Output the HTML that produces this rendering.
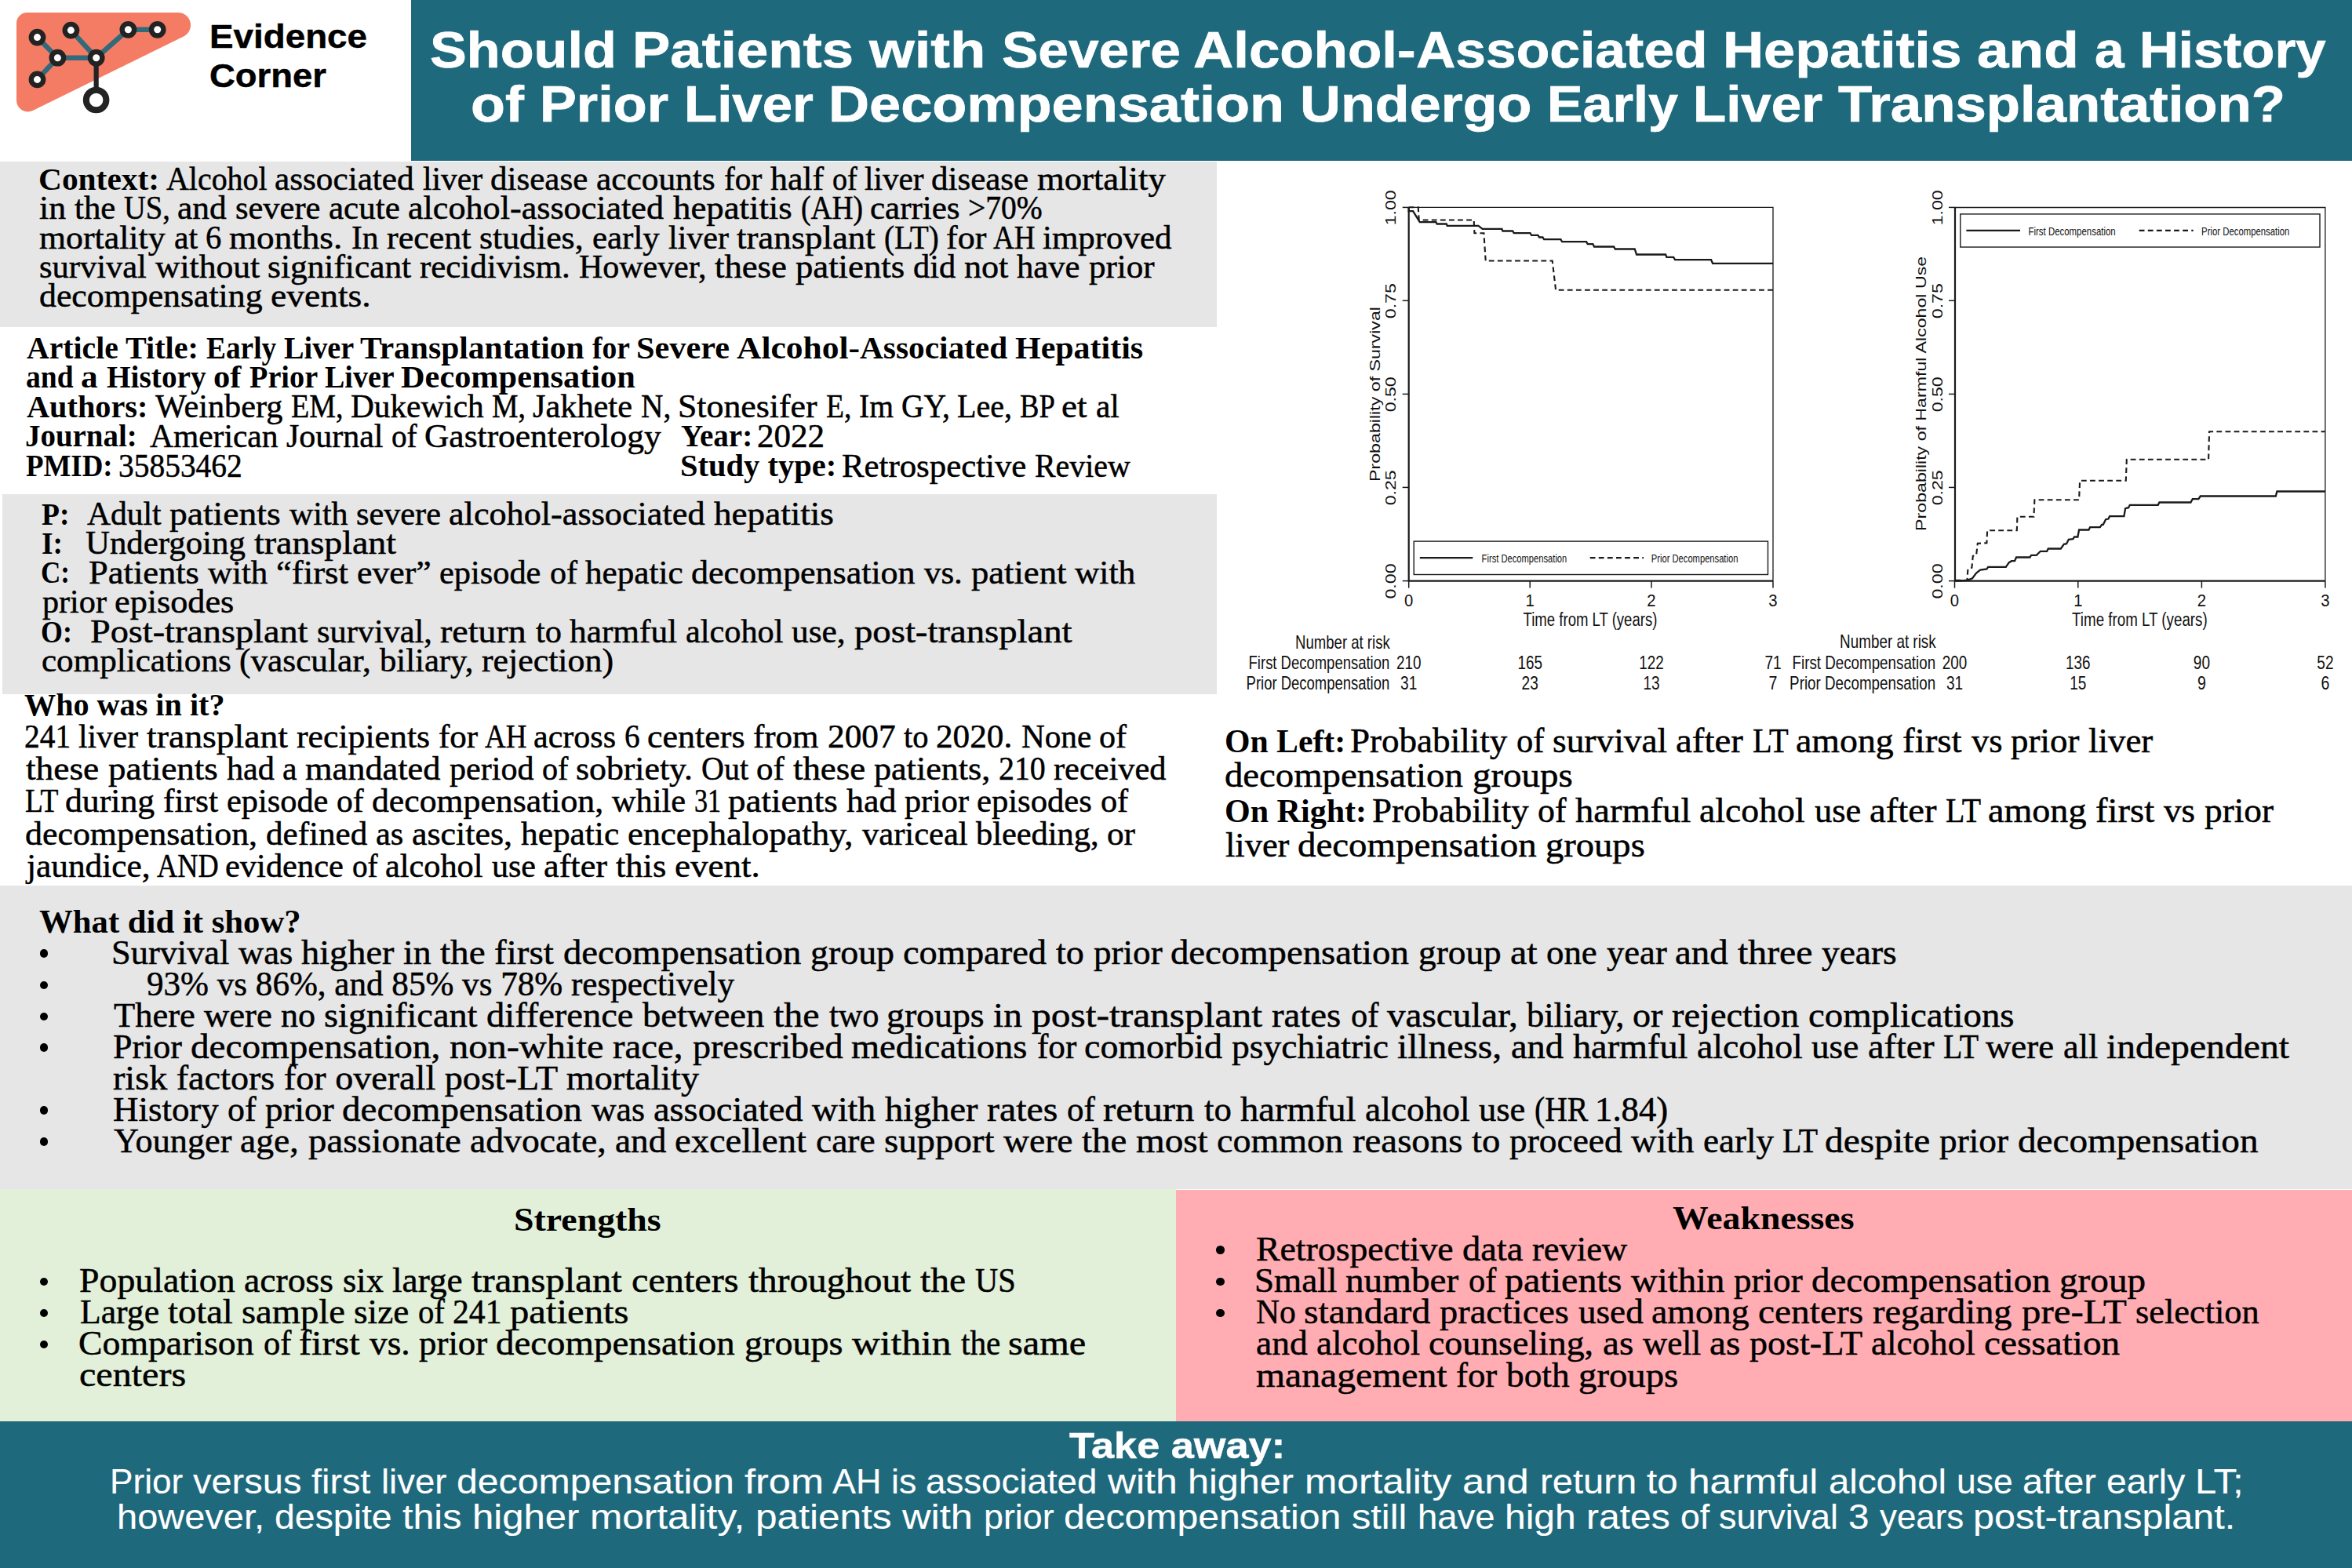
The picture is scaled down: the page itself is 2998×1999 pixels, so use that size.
<!DOCTYPE html>
<html lang="en">
<head>
<meta charset="utf-8">
<title>Evidence Corner</title>
<style>
html,body{margin:0;padding:0;}
body{width:2998px;height:1999px;position:relative;overflow:hidden;background:#fff;font-family:"Liberation Serif",serif;color:#000;}
.bx{position:absolute;}
.t{position:absolute;white-space:pre;transform-origin:0 0;font-weight:400;}
.s{font-family:"Liberation Serif",serif;}
.n{font-family:"Liberation Sans",sans-serif;}
.s{-webkit-text-stroke:0.5px #000;}
.s b{font-weight:700;-webkit-text-stroke:0;}
.n b{font-weight:700;}
.bu{position:absolute;width:10.5px;height:10.5px;border-radius:50%;background:#000;display:block;}
svg{position:absolute;left:0;top:0;}
svg text{font-family:"Liberation Sans",sans-serif;fill:#111;}
</style>
</head>
<body>
<!-- colour blocks -->
<div class="bx" style="left:523.7px;top:0;width:2474.3px;height:205.3px;background:#1f697d"></div>
<div class="bx" style="left:0;top:206px;width:1550.75px;height:211px;background:#e6e6e6"></div>
<div class="bx" style="left:3.2px;top:630.3px;width:1547.55px;height:254.4px;background:#e6e6e6"></div>
<div class="bx" style="left:0;top:1129px;width:2998px;height:387px;background:#e6e6e6"></div>
<div class="bx" style="left:0;top:1516px;width:1498.6px;height:297px;background:#e2efd9"></div>
<div class="bx" style="left:1498.6px;top:1517px;width:1499.4px;height:296px;background:#ffadb2"></div>
<div class="bx" style="left:0;top:1812.2px;width:2998px;height:187px;background:#1f697d"></div>

<!-- logo -->
<svg width="300" height="200" viewBox="0 0 300 200">
<path d="M21,29.5 A13.5,13.5 0 0 1 34.5,16 L227,16 A16,16 0 0 1 234,46.4 L41.8,141 A14.5,14.5 0 0 1 21,128 Z" fill="#f57c64"/>
<g stroke="#336a7a" stroke-width="6.4" fill="none">
<path d="M47.5,47.6 L73.4,73.7 L47.5,101.4"/>
<path d="M73.4,73.7 L122.7,73.7"/>
<path d="M90.4,38.6 L122.7,73.7 L163.4,37.8 L200.7,37.8"/>
</g>
<path d="M122.65,73.7 L122.65,127.5" stroke="#232323" stroke-width="6.2" fill="none"/>
<g fill="#fff" stroke="#232323" stroke-width="6.4">
<circle cx="47.5" cy="47.6" r="7.7"/>
<circle cx="90.4" cy="38.6" r="7.7"/>
<circle cx="163.4" cy="37.8" r="7.7"/>
<circle cx="200.7" cy="37.8" r="7.7"/>
<circle cx="73.4" cy="73.7" r="7.7"/>
<circle cx="122.7" cy="73.7" r="7.7"/>
<circle cx="47.5" cy="101.4" r="7.7"/>
<circle cx="122.6" cy="127.5" r="12.8" stroke-width="8"/>
</g>

</svg>

<!-- charts -->
<svg width="2998" height="1999" viewBox="0 0 2998 1999">
<g fill="none" stroke="#1a1a1a">
<path d="M1795.7,264.4 L2260.0,264.4 L2260.0,740.6" stroke-width="1.3"/>
<path d="M1795.7,264.4 L1795.7,740.6 L2260.0,740.6" stroke-width="2.2"/>
<path d="M1787.7,264.4 L1795.7,264.4" stroke-width="1.5"/>
<path d="M1787.7,383.3 L1795.7,383.3" stroke-width="1.5"/>
<path d="M1787.7,502.4 L1795.7,502.4" stroke-width="1.5"/>
<path d="M1787.7,621.4 L1795.7,621.4" stroke-width="1.5"/>
<path d="M1787.7,740.6 L1795.7,740.6" stroke-width="1.5"/>
<path d="M1795.7,740.6 L1795.7,749.6" stroke-width="1.5"/>
<path d="M1950.2,740.6 L1950.2,749.6" stroke-width="1.5"/>
<path d="M2105,740.6 L2105,749.6" stroke-width="1.5"/>
<path d="M2260.0,740.6 L2260.0,749.6" stroke-width="1.5"/>
<path d="M1795.7,264.2 L1795.7,269.2 L1801.1,269.2 L1809.7,283.2 L1830.4,283.2 L1831.7,285.5 L1843.7,285.5 L1844.7,287.8 L1884.4,287.8 L1889.7,291.8 L1914.4,291.8 L1915.4,294.5 L1928.1,294.5 L1929.7,297.2 L1950.4,297.2 L1952.1,299.8 L1960.4,299.8 L1962.1,302.5 L1966.4,302.5 L1968.1,305.2 L1989.4,305.2 L1991.1,308.2 L2022.1,308.2 L2023.7,311.2 L2030.4,311.2 L2032.1,314.5 L2057.1,314.5 L2058.7,317.5 L2083.7,317.5 L2086.1,324.5 L2123.1,324.5 L2124.4,327.8 L2133.1,327.8 L2135.1,331.2 L2181.1,331.2 L2183.1,335.8 L2260.1,335.8" stroke-width="2.3"/>
<path d="M1795.7,264.2 L1807.7,264.2 L1808.7,280.5 L1878.7,280.5 L1879.4,297.2 L1891.4,297.2 L1893.7,332.5 L1978.7,332.5 L1983.1,369.8 L2260.1,369.8" stroke-width="2.1" stroke-dasharray="6.8,4.3"/>
<rect x="1802.2" y="690.1" width="451.3" height="42.4" stroke-width="1.4"/>
<path d="M1809.8,711.2 L1877.3,711.2" stroke-width="2.2"/>
<path d="M2026.7,711.2 L2095,711.2" stroke-width="2.3" stroke-dasharray="6.8,4.3"/>
<path d="M2492.0,264.5 L2963.9,264.5 L2963.9,740.6" stroke-width="1.3"/>
<path d="M2492.0,264.5 L2492.0,740.6 L2963.9,740.6" stroke-width="2.2"/>
<path d="M2484.0,264.4 L2492.0,264.4" stroke-width="1.5"/>
<path d="M2484.0,383.3 L2492.0,383.3" stroke-width="1.5"/>
<path d="M2484.0,502.4 L2492.0,502.4" stroke-width="1.5"/>
<path d="M2484.0,621.4 L2492.0,621.4" stroke-width="1.5"/>
<path d="M2484.0,740.6 L2492.0,740.6" stroke-width="1.5"/>
<path d="M2491.5,740.6 L2491.5,749.6" stroke-width="1.5"/>
<path d="M2648.8,740.6 L2648.8,749.6" stroke-width="1.5"/>
<path d="M2806.4,740.6 L2806.4,749.6" stroke-width="1.5"/>
<path d="M2963.9,740.6 L2963.9,749.6" stroke-width="1.5"/>
<path d="M2492.4,740.5 L2507.4,739.8 L2514.1,737.2 L2519.1,730.5 L2524.1,726.5 L2532.4,725.5 L2534.1,722.8 L2556.8,722.8 L2560.8,717.2 L2564.1,715.2 L2568.1,715.2 L2570.1,710.5 L2587.4,710.5 L2589.1,707.8 L2595.8,707.8 L2600.8,702.8 L2609.1,702.8 L2610.8,699.5 L2626.8,699.5 L2630.8,693.8 L2634.1,693.2 L2636.8,687.8 L2642.4,687.2 L2644.1,684.5 L2648.4,684.5 L2650.1,675.5 L2662.4,675.5 L2664.1,672.2 L2676.8,672.2 L2679.1,668.8 L2680.8,668.8 L2684.1,662.2 L2687.4,661.5 L2689.1,658.2 L2707.4,658.2 L2709.1,648.2 L2713.1,647.2 L2714.8,643.8 L2750.8,643.8 L2752.4,640.5 L2792.4,640.5 L2794.8,636.2 L2802.4,636.2 L2804.8,632.5 L2900.8,632.5 L2902.4,626.5 L2963.8,626.5" stroke-width="2.3"/>
<path d="M2492.4,739.8 L2507.4,739.8 L2508.4,725.5 L2513.4,723.8 L2514.8,708.8 L2519.1,707.8 L2520.8,692.8 L2532.4,692.2 L2533.1,676.2 L2570.8,676.2 L2571.4,658.8 L2592.4,658.8 L2593.4,637.2 L2650.1,637.2 L2651.1,612.8 L2709.8,612.8 L2710.8,585.8 L2815.1,585.8 L2816.1,550.2 L2963.8,550.2" stroke-width="2.1" stroke-dasharray="6.8,4.3"/>
<rect x="2498.8" y="272.9" width="458.2" height="42.1" stroke-width="1.4"/>
<path d="M2506.4,293.8 L2575,293.8" stroke-width="2.2"/>
<path d="M2726.7,293.8 L2795.7,293.8" stroke-width="2.3" stroke-dasharray="6.8,4.3"/>
</g>
<text transform="translate(1779.1,264.8) rotate(-90)" text-anchor="middle" font-size="17.8" textLength="45.0" lengthAdjust="spacingAndGlyphs">1.00</text>
<text transform="translate(2475.7,264.8) rotate(-90)" text-anchor="middle" font-size="17.8" textLength="45.0" lengthAdjust="spacingAndGlyphs">1.00</text>
<text transform="translate(1779.1,383.7) rotate(-90)" text-anchor="middle" font-size="17.8" textLength="45.0" lengthAdjust="spacingAndGlyphs">0.75</text>
<text transform="translate(2475.7,383.7) rotate(-90)" text-anchor="middle" font-size="17.8" textLength="45.0" lengthAdjust="spacingAndGlyphs">0.75</text>
<text transform="translate(1779.1,502.8) rotate(-90)" text-anchor="middle" font-size="17.8" textLength="45.0" lengthAdjust="spacingAndGlyphs">0.50</text>
<text transform="translate(2475.7,502.8) rotate(-90)" text-anchor="middle" font-size="17.8" textLength="45.0" lengthAdjust="spacingAndGlyphs">0.50</text>
<text transform="translate(1779.1,621.8) rotate(-90)" text-anchor="middle" font-size="17.8" textLength="45.0" lengthAdjust="spacingAndGlyphs">0.25</text>
<text transform="translate(2475.7,621.8) rotate(-90)" text-anchor="middle" font-size="17.8" textLength="45.0" lengthAdjust="spacingAndGlyphs">0.25</text>
<text transform="translate(1779.1,741.0) rotate(-90)" text-anchor="middle" font-size="17.8" textLength="45.0" lengthAdjust="spacingAndGlyphs">0.00</text>
<text transform="translate(2475.7,741.0) rotate(-90)" text-anchor="middle" font-size="17.8" textLength="45.0" lengthAdjust="spacingAndGlyphs">0.00</text>
<text transform="translate(1758.8,502.5) rotate(-90)" text-anchor="middle" font-size="17.8" textLength="223.0" lengthAdjust="spacingAndGlyphs">Probability of Survival</text>
<text transform="translate(2455.1,501.9) rotate(-90)" text-anchor="middle" font-size="17.8" textLength="350.0" lengthAdjust="spacingAndGlyphs">Probability of Harmful Alcohol Use</text>
<text x="1795.7" y="772.8" text-anchor="middle" font-size="22" textLength="11.3" lengthAdjust="spacingAndGlyphs">0</text>
<text x="1950.2" y="772.8" text-anchor="middle" font-size="22" textLength="11.3" lengthAdjust="spacingAndGlyphs">1</text>
<text x="2105.0" y="772.8" text-anchor="middle" font-size="22" textLength="11.3" lengthAdjust="spacingAndGlyphs">2</text>
<text x="2260.0" y="772.8" text-anchor="middle" font-size="22" textLength="11.3" lengthAdjust="spacingAndGlyphs">3</text>
<text x="2491.5" y="772.6" text-anchor="middle" font-size="22" textLength="11.3" lengthAdjust="spacingAndGlyphs">0</text>
<text x="2648.8" y="772.6" text-anchor="middle" font-size="22" textLength="11.3" lengthAdjust="spacingAndGlyphs">1</text>
<text x="2806.4" y="772.6" text-anchor="middle" font-size="22" textLength="11.3" lengthAdjust="spacingAndGlyphs">2</text>
<text x="2963.9" y="772.6" text-anchor="middle" font-size="22" textLength="11.3" lengthAdjust="spacingAndGlyphs">3</text>
<text x="1941.6" y="798.4" text-anchor="start" font-size="23.5" textLength="170.8" lengthAdjust="spacingAndGlyphs">Time from LT (years)</text>
<text x="2641.1" y="798.0" text-anchor="start" font-size="23.5" textLength="172.6" lengthAdjust="spacingAndGlyphs">Time from LT (years)</text>
<text x="1651.1" y="826.6" text-anchor="start" font-size="23.2" textLength="120.6" lengthAdjust="spacingAndGlyphs">Number at risk</text>
<text x="2345.1" y="826.0" text-anchor="start" font-size="23.2" textLength="122.6" lengthAdjust="spacingAndGlyphs">Number at risk</text>
<text x="1591.6" y="853.1" text-anchor="start" font-size="23.2" textLength="179.6" lengthAdjust="spacingAndGlyphs">First Decompensation</text>
<text x="1588.6" y="879.2" text-anchor="start" font-size="23.2" textLength="182.6" lengthAdjust="spacingAndGlyphs">Prior Decompensation</text>
<text x="2284.5" y="852.6" text-anchor="start" font-size="23.2" textLength="182.6" lengthAdjust="spacingAndGlyphs">First Decompensation</text>
<text x="2281.1" y="879.2" text-anchor="start" font-size="23.2" textLength="186.0" lengthAdjust="spacingAndGlyphs">Prior Decompensation</text>
<text x="1795.7" y="853.1" text-anchor="middle" font-size="23.2" textLength="31.5" lengthAdjust="spacingAndGlyphs">210</text>
<text x="1950.2" y="853.1" text-anchor="middle" font-size="23.2" textLength="31.5" lengthAdjust="spacingAndGlyphs">165</text>
<text x="2105.0" y="853.1" text-anchor="middle" font-size="23.2" textLength="31.5" lengthAdjust="spacingAndGlyphs">122</text>
<text x="2260.0" y="853.1" text-anchor="middle" font-size="23.2" textLength="21.2" lengthAdjust="spacingAndGlyphs">71</text>
<text x="1795.7" y="879.2" text-anchor="middle" font-size="23.2" textLength="21.2" lengthAdjust="spacingAndGlyphs">31</text>
<text x="1950.2" y="879.2" text-anchor="middle" font-size="23.2" textLength="21.2" lengthAdjust="spacingAndGlyphs">23</text>
<text x="2105.0" y="879.2" text-anchor="middle" font-size="23.2" textLength="21.2" lengthAdjust="spacingAndGlyphs">13</text>
<text x="2260.0" y="879.2" text-anchor="middle" font-size="23.2" textLength="10.9" lengthAdjust="spacingAndGlyphs">7</text>
<text x="2491.5" y="852.6" text-anchor="middle" font-size="23.2" textLength="31.5" lengthAdjust="spacingAndGlyphs">200</text>
<text x="2648.8" y="852.6" text-anchor="middle" font-size="23.2" textLength="31.5" lengthAdjust="spacingAndGlyphs">136</text>
<text x="2806.4" y="852.6" text-anchor="middle" font-size="23.2" textLength="21.2" lengthAdjust="spacingAndGlyphs">90</text>
<text x="2963.9" y="852.6" text-anchor="middle" font-size="23.2" textLength="21.2" lengthAdjust="spacingAndGlyphs">52</text>
<text x="2491.5" y="879.2" text-anchor="middle" font-size="23.2" textLength="21.2" lengthAdjust="spacingAndGlyphs">31</text>
<text x="2648.8" y="879.2" text-anchor="middle" font-size="23.2" textLength="21.2" lengthAdjust="spacingAndGlyphs">15</text>
<text x="2806.4" y="879.2" text-anchor="middle" font-size="23.2" textLength="10.9" lengthAdjust="spacingAndGlyphs">9</text>
<text x="2963.9" y="879.2" text-anchor="middle" font-size="23.2" textLength="10.9" lengthAdjust="spacingAndGlyphs">6</text>
<text x="1888.6" y="716.8" text-anchor="start" font-size="14.8" textLength="108.7" lengthAdjust="spacingAndGlyphs">First Decompensation</text>
<text x="2104.8" y="716.8" text-anchor="start" font-size="14.8" textLength="110.6" lengthAdjust="spacingAndGlyphs">Prior Decompensation</text>
<text x="2585.5" y="300.0" text-anchor="start" font-size="14.8" textLength="111.2" lengthAdjust="spacingAndGlyphs">First Decompensation</text>
<text x="2806.1" y="300.0" text-anchor="start" font-size="14.8" textLength="112.3" lengthAdjust="spacingAndGlyphs">Prior Decompensation</text>
</svg>

<!-- text -->
<div class="t n" style="left:266.83px;top:26.24px;font-size:42px;line-height:42px;-webkit-text-stroke:0.45px #000;transform:scaleX(1.0900)"><b>Evidence</b></div>
<div class="t n" style="left:267.12px;top:76.14px;font-size:42px;line-height:42px;-webkit-text-stroke:0.45px #000;transform:scaleX(1.0816)"><b>Corner</b></div>
<div class="t n" style="left:548.34px;top:31.07px;font-size:65px;line-height:65px;color:#fff;-webkit-text-stroke:0.7px #fff;transform:scaleX(1.0800)"><b>Should</b></div>
<div class="t n" style="left:805.54px;top:31.07px;font-size:65px;line-height:65px;color:#fff;-webkit-text-stroke:0.7px #fff;transform:scaleX(1.1150)"><b>Patients</b></div>
<div class="t n" style="left:1107.64px;top:31.07px;font-size:65px;line-height:65px;color:#fff;-webkit-text-stroke:0.7px #fff;transform:scaleX(1.1421)"><b>with</b></div>
<div class="t n" style="left:1276.86px;top:31.07px;font-size:65px;line-height:65px;color:#fff;-webkit-text-stroke:0.7px #fff;transform:scaleX(1.0685)"><b>Severe</b></div>
<div class="t n" style="left:1521.41px;top:31.07px;font-size:65px;line-height:65px;color:#fff;-webkit-text-stroke:0.7px #fff;transform:scaleX(1.0905)"><b>Alcohol-</b></div>
<div class="t n" style="left:1804.93px;top:31.07px;font-size:65px;line-height:65px;color:#fff;-webkit-text-stroke:0.7px #fff;transform:scaleX(1.0711)"><b>Associated</b></div>
<div class="t n" style="left:2195.56px;top:31.07px;font-size:65px;line-height:65px;color:#fff;-webkit-text-stroke:0.7px #fff;transform:scaleX(1.1099)"><b>Hepatitis</b></div>
<div class="t n" style="left:2520.25px;top:31.07px;font-size:65px;line-height:65px;color:#fff;-webkit-text-stroke:0.7px #fff;transform:scaleX(1.1225)"><b>and</b></div>
<div class="t n" style="left:2670.42px;top:31.07px;font-size:65px;line-height:65px;color:#fff;-webkit-text-stroke:0.7px #fff;transform:scaleX(1.0409)"><b>a</b></div>
<div class="t n" style="left:2726.75px;top:31.07px;font-size:65px;line-height:65px;color:#fff;-webkit-text-stroke:0.7px #fff;transform:scaleX(1.0614)"><b>History</b></div>
<div class="t n" style="left:600.29px;top:99.97px;font-size:65px;line-height:65px;color:#fff;-webkit-text-stroke:0.7px #fff;transform:scaleX(1.1056)"><b>of</b></div>
<div class="t n" style="left:688.18px;top:99.97px;font-size:65px;line-height:65px;color:#fff;-webkit-text-stroke:0.7px #fff;transform:scaleX(1.0809)"><b>Prior</b></div>
<div class="t n" style="left:871.76px;top:99.97px;font-size:65px;line-height:65px;color:#fff;-webkit-text-stroke:0.7px #fff;transform:scaleX(1.0610)"><b>Liver</b></div>
<div class="t n" style="left:1055.56px;top:99.97px;font-size:65px;line-height:65px;color:#fff;-webkit-text-stroke:0.7px #fff;transform:scaleX(1.1095)"><b>Decompensation</b></div>
<div class="t n" style="left:1656.68px;top:99.97px;font-size:65px;line-height:65px;color:#fff;-webkit-text-stroke:0.7px #fff;transform:scaleX(1.1056)"><b>Undergo</b></div>
<div class="t n" style="left:1972.30px;top:99.97px;font-size:65px;line-height:65px;color:#fff;-webkit-text-stroke:0.7px #fff;transform:scaleX(1.0505)"><b>Early</b></div>
<div class="t n" style="left:2158.25px;top:99.97px;font-size:65px;line-height:65px;color:#fff;-webkit-text-stroke:0.7px #fff;transform:scaleX(1.0624)"><b>Liver</b></div>
<div class="t n" style="left:2342.50px;top:99.97px;font-size:65px;line-height:65px;color:#fff;-webkit-text-stroke:0.7px #fff;transform:scaleX(1.0885)"><b>Transplantation?</b></div>
<div class="t s" style="left:48.68px;top:208.90px;font-size:40.0px;line-height:40.0px;transform:scaleX(1.0350)"><b>Context:</b></div>
<div class="t s" style="left:212.00px;top:207.23px;font-size:42.0px;line-height:42.0px;transform:scaleX(0.9503)">Alcohol</div>
<div class="t s" style="left:350.47px;top:207.23px;font-size:42.0px;line-height:42.0px;transform:scaleX(1.0295)">associated</div>
<div class="t s" style="left:539.01px;top:207.23px;font-size:42.0px;line-height:42.0px;transform:scaleX(0.9889)">liver</div>
<div class="t s" style="left:625.48px;top:207.23px;font-size:42.0px;line-height:42.0px;transform:scaleX(1.0244)">disease</div>
<div class="t s" style="left:760.47px;top:207.23px;font-size:42.0px;line-height:42.0px;transform:scaleX(1.0322)">accounts</div>
<div class="t s" style="left:923.02px;top:207.23px;font-size:42.0px;line-height:42.0px;transform:scaleX(0.9832)">for</div>
<div class="t s" style="left:981.50px;top:207.23px;font-size:42.0px;line-height:42.0px;transform:scaleX(1.0417)">half</div>
<div class="t s" style="left:1060.59px;top:207.23px;font-size:42.0px;line-height:42.0px;transform:scaleX(0.9058)">of</div>
<div class="t s" style="left:1101.72px;top:207.23px;font-size:42.0px;line-height:42.0px;transform:scaleX(0.9809)">liver</div>
<div class="t s" style="left:1187.48px;top:207.23px;font-size:42.0px;line-height:42.0px;transform:scaleX(1.0229)">disease</div>
<div class="t s" style="left:1322.24px;top:207.23px;font-size:42.0px;line-height:42.0px;transform:scaleX(1.0634)">mortality</div>
<div class="t s" style="left:49.96px;top:244.23px;font-size:42.0px;line-height:42.0px;transform:scaleX(1.0437)">in</div>
<div class="t s" style="left:95.00px;top:244.23px;font-size:42.0px;line-height:42.0px;transform:scaleX(1.0189)">the</div>
<div class="t s" style="left:158.08px;top:244.23px;font-size:42.0px;line-height:42.0px;transform:scaleX(0.9172)">US,</div>
<div class="t s" style="left:226.47px;top:244.23px;font-size:42.0px;line-height:42.0px;transform:scaleX(1.0332)">and</div>
<div class="t s" style="left:299.99px;top:244.23px;font-size:42.0px;line-height:42.0px;transform:scaleX(1.0105)">severe</div>
<div class="t s" style="left:418.98px;top:244.23px;font-size:42.0px;line-height:42.0px;transform:scaleX(1.0243)">acute</div>
<div class="t s" style="left:520.45px;top:244.23px;font-size:42.0px;line-height:42.0px;transform:scaleX(1.0510)">alcohol-associated</div>
<div class="t s" style="left:857.50px;top:244.23px;font-size:42.0px;line-height:42.0px;transform:scaleX(1.0659)">hepatitis</div>
<div class="t s" style="left:1020.72px;top:244.23px;font-size:42.0px;line-height:42.0px;transform:scaleX(0.8916)">(AH)</div>
<div class="t s" style="left:1108.98px;top:244.23px;font-size:42.0px;line-height:42.0px;transform:scaleX(1.0234)">carries</div>
<div class="t s" style="left:1234.42px;top:244.23px;font-size:42.0px;line-height:42.0px;transform:scaleX(0.9408)">&gt;70%</div>
<div class="t s" style="left:49.96px;top:281.53px;font-size:42.0px;line-height:42.0px;transform:scaleX(1.0428)">mortality</div>
<div class="t s" style="left:221.51px;top:281.53px;font-size:42.0px;line-height:42.0px;transform:scaleX(0.9925)">at</div>
<div class="t s" style="left:262.07px;top:281.53px;font-size:42.0px;line-height:42.0px;transform:scaleX(0.9672)">6</div>
<div class="t s" style="left:292.43px;top:281.53px;font-size:42.0px;line-height:42.0px;transform:scaleX(1.0748)">months.</div>
<div class="t s" style="left:448.01px;top:281.53px;font-size:42.0px;line-height:42.0px;transform:scaleX(0.9894)">In</div>
<div class="t s" style="left:492.95px;top:281.53px;font-size:42.0px;line-height:42.0px;transform:scaleX(1.0478)">recent</div>
<div class="t s" style="left:611.46px;top:281.53px;font-size:42.0px;line-height:42.0px;transform:scaleX(1.0425)">studies,</div>
<div class="t s" style="left:754.98px;top:281.53px;font-size:42.0px;line-height:42.0px;transform:scaleX(1.0218)">early</div>
<div class="t s" style="left:851.50px;top:281.53px;font-size:42.0px;line-height:42.0px;transform:scaleX(1.0004)">liver</div>
<div class="t s" style="left:939.00px;top:281.53px;font-size:42.0px;line-height:42.0px;transform:scaleX(1.0667)">transplant</div>
<div class="t s" style="left:1127.15px;top:281.53px;font-size:42.0px;line-height:42.0px;transform:scaleX(0.9244)">(LT)</div>
<div class="t s" style="left:1206.45px;top:281.53px;font-size:42.0px;line-height:42.0px;transform:scaleX(1.0471)">for</div>
<div class="t s" style="left:1266.30px;top:281.53px;font-size:42.0px;line-height:42.0px;transform:scaleX(0.8826)">AH</div>
<div class="t s" style="left:1328.98px;top:281.53px;font-size:42.0px;line-height:42.0px;transform:scaleX(1.0219)">improved</div>
<div class="t s" style="left:49.99px;top:318.53px;font-size:42.0px;line-height:42.0px;transform:scaleX(1.0118)">survival</div>
<div class="t s" style="left:197.50px;top:318.53px;font-size:42.0px;line-height:42.0px;transform:scaleX(1.0369)">without</div>
<div class="t s" style="left:341.47px;top:318.53px;font-size:42.0px;line-height:42.0px;transform:scaleX(1.0330)">significant</div>
<div class="t s" style="left:535.48px;top:318.53px;font-size:42.0px;line-height:42.0px;transform:scaleX(1.0213)">recidivism.</div>
<div class="t s" style="left:738.00px;top:318.53px;font-size:42.0px;line-height:42.0px;transform:scaleX(0.9985)">However,</div>
<div class="t s" style="left:911.00px;top:318.53px;font-size:42.0px;line-height:42.0px;transform:scaleX(1.0641)">these</div>
<div class="t s" style="left:1014.00px;top:318.53px;font-size:42.0px;line-height:42.0px;transform:scaleX(1.0644)">patients</div>
<div class="t s" style="left:1164.29px;top:318.53px;font-size:42.0px;line-height:42.0px;transform:scaleX(1.0082)">did</div>
<div class="t s" style="left:1228.95px;top:318.53px;font-size:42.0px;line-height:42.0px;transform:scaleX(1.0498)">not</div>
<div class="t s" style="left:1296.30px;top:318.53px;font-size:42.0px;line-height:42.0px;transform:scaleX(1.0156)">have</div>
<div class="t s" style="left:1387.50px;top:318.53px;font-size:42.0px;line-height:42.0px;transform:scaleX(1.0244)">prior</div>
<div class="t s" style="left:49.96px;top:356.03px;font-size:42.0px;line-height:42.0px;transform:scaleX(1.0427)">decompensating</div>
<div class="t s" style="left:345.42px;top:356.03px;font-size:42.0px;line-height:42.0px;transform:scaleX(1.0833)">events.</div>
<div class="t s" style="left:34.00px;top:424.40px;font-size:40.0px;line-height:40.0px;transform:scaleX(0.9924)"><b>Article</b></div>
<div class="t s" style="left:160.00px;top:424.40px;font-size:40.0px;line-height:40.0px;transform:scaleX(1.0041)"><b>Title:</b></div>
<div class="t s" style="left:263.07px;top:424.40px;font-size:40.0px;line-height:40.0px;transform:scaleX(0.9332)"><b>Early</b></div>
<div class="t s" style="left:361.54px;top:424.40px;font-size:40.0px;line-height:40.0px;transform:scaleX(0.9572)"><b>Liver</b></div>
<div class="t s" style="left:458.96px;top:424.40px;font-size:40.0px;line-height:40.0px;transform:scaleX(1.0392)"><b>Transplantation</b></div>
<div class="t s" style="left:755.00px;top:424.40px;font-size:40.0px;line-height:40.0px;transform:scaleX(0.9381)"><b>for</b></div>
<div class="t s" style="left:811.39px;top:424.40px;font-size:40.0px;line-height:40.0px;transform:scaleX(1.0564)"><b>Severe</b></div>
<div class="t s" style="left:938.50px;top:424.40px;font-size:40.0px;line-height:40.0px;transform:scaleX(1.0870)"><b>Alcohol-</b></div>
<div class="t s" style="left:1095.50px;top:424.40px;font-size:40.0px;line-height:40.0px;transform:scaleX(1.0326)"><b>Associated</b></div>
<div class="t s" style="left:1293.95px;top:424.40px;font-size:40.0px;line-height:40.0px;transform:scaleX(1.0487)"><b>Hepatitis</b></div>
<div class="t s" style="left:33.06px;top:461.40px;font-size:40.0px;line-height:40.0px;transform:scaleX(0.9398)"><b>and</b></div>
<div class="t s" style="left:102.92px;top:461.40px;font-size:40.0px;line-height:40.0px;transform:scaleX(1.0833)"><b>a</b></div>
<div class="t s" style="left:135.52px;top:461.40px;font-size:40.0px;line-height:40.0px;transform:scaleX(0.9830)"><b>History</b></div>
<div class="t s" style="left:271.87px;top:461.40px;font-size:40.0px;line-height:40.0px;transform:scaleX(1.0635)"><b>of</b></div>
<div class="t s" style="left:318.04px;top:461.40px;font-size:40.0px;line-height:40.0px;transform:scaleX(0.9569)"><b>Prior</b></div>
<div class="t s" style="left:414.05px;top:461.40px;font-size:40.0px;line-height:40.0px;transform:scaleX(0.9505)"><b>Liver</b></div>
<div class="t s" style="left:511.44px;top:461.40px;font-size:40.0px;line-height:40.0px;transform:scaleX(1.0587)"><b>Decompensation</b></div>
<div class="t s" style="left:34.00px;top:498.90px;font-size:40.0px;line-height:40.0px;transform:scaleX(1.0067)"><b>Authors:</b></div>
<div class="t s" style="left:197.50px;top:497.23px;font-size:42.0px;line-height:42.0px;transform:scaleX(1.0061)">Weinberg</div>
<div class="t s" style="left:370.60px;top:497.23px;font-size:42.0px;line-height:42.0px;transform:scaleX(0.9048)">EM,</div>
<div class="t s" style="left:446.52px;top:497.23px;font-size:42.0px;line-height:42.0px;transform:scaleX(0.9830)">Dukewich</div>
<div class="t s" style="left:626.60px;top:497.23px;font-size:42.0px;line-height:42.0px;transform:scaleX(0.8998)">M,</div>
<div class="t s" style="left:678.99px;top:497.23px;font-size:42.0px;line-height:42.0px;transform:scaleX(1.0078)">Jakhete</div>
<div class="t s" style="left:816.56px;top:497.23px;font-size:42.0px;line-height:42.0px;transform:scaleX(0.9376)">N,</div>
<div class="t s" style="left:864.37px;top:497.23px;font-size:42.0px;line-height:42.0px;transform:scaleX(1.0431)">Stonesifer</div>
<div class="t s" style="left:1053.11px;top:497.23px;font-size:42.0px;line-height:42.0px;transform:scaleX(0.8938)">E,</div>
<div class="t s" style="left:1094.76px;top:497.23px;font-size:42.0px;line-height:42.0px;transform:scaleX(0.9413)">Im</div>
<div class="t s" style="left:1148.56px;top:497.23px;font-size:42.0px;line-height:42.0px;transform:scaleX(0.9416)">GY,</div>
<div class="t s" style="left:1220.35px;top:497.23px;font-size:42.0px;line-height:42.0px;transform:scaleX(0.9531)">Lee,</div>
<div class="t s" style="left:1300.43px;top:497.23px;font-size:42.0px;line-height:42.0px;transform:scaleX(0.8705)">BP</div>
<div class="t s" style="left:1352.73px;top:497.23px;font-size:42.0px;line-height:42.0px;transform:scaleX(1.0708)">et</div>
<div class="t s" style="left:1396.52px;top:497.23px;font-size:42.0px;line-height:42.0px;transform:scaleX(0.9828)">al</div>
<div class="t s" style="left:32.05px;top:536.40px;font-size:40.0px;line-height:40.0px;transform:scaleX(0.9734)"><b>Journal:</b></div>
<div class="t s" style="left:191.25px;top:534.73px;font-size:42.0px;line-height:42.0px;transform:scaleX(0.9869)">American</div>
<div class="t s" style="left:365.00px;top:534.73px;font-size:42.0px;line-height:42.0px;transform:scaleX(0.9990)">Journal</div>
<div class="t s" style="left:499.07px;top:534.73px;font-size:42.0px;line-height:42.0px;transform:scaleX(0.9344)">of</div>
<div class="t s" style="left:541.47px;top:534.73px;font-size:42.0px;line-height:42.0px;transform:scaleX(1.0344)">Gastroenterology</div>
<div class="t s" style="left:868.02px;top:536.40px;font-size:40.0px;line-height:40.0px;transform:scaleX(0.9775)"><b>Year:</b></div>
<div class="t s" style="left:965.45px;top:534.73px;font-size:42.0px;line-height:42.0px;transform:scaleX(1.0250)">2022</div>
<div class="t s" style="left:33.08px;top:574.40px;font-size:40.0px;line-height:40.0px;transform:scaleX(0.9224)"><b>PMID:</b></div>
<div class="t s" style="left:150.62px;top:572.73px;font-size:42.0px;line-height:42.0px;transform:scaleX(0.9390)">35853462</div>
<div class="t s" style="left:866.97px;top:574.40px;font-size:40.0px;line-height:40.0px;transform:scaleX(1.0131)"><b>Study type:</b></div>
<div class="t s" style="left:1072.98px;top:572.73px;font-size:42.0px;line-height:42.0px;transform:scaleX(1.0190)">Retrospective</div>
<div class="t s" style="left:1319.05px;top:572.73px;font-size:42.0px;line-height:42.0px;transform:scaleX(0.9492)">Review</div>
<div class="t s" style="left:53.06px;top:635.90px;font-size:40.0px;line-height:40.0px;transform:scaleX(0.9394)"><b>P:</b></div>
<div class="t s" style="left:111.00px;top:634.23px;font-size:42.0px;line-height:42.0px;transform:scaleX(0.9891)">Adult</div>
<div class="t s" style="left:216.00px;top:634.23px;font-size:42.0px;line-height:42.0px;transform:scaleX(1.0840)">patients</div>
<div class="t s" style="left:369.00px;top:634.23px;font-size:42.0px;line-height:42.0px;transform:scaleX(0.9980)">with</div>
<div class="t s" style="left:453.99px;top:634.23px;font-size:42.0px;line-height:42.0px;transform:scaleX(1.0064)">severe</div>
<div class="t s" style="left:572.45px;top:634.23px;font-size:42.0px;line-height:42.0px;transform:scaleX(1.0525)">alcohol-associated</div>
<div class="t s" style="left:910.00px;top:634.23px;font-size:42.0px;line-height:42.0px;transform:scaleX(1.0745)">hepatitis</div>
<div class="t s" style="left:53.06px;top:672.90px;font-size:40.0px;line-height:40.0px;transform:scaleX(0.9375)"><b>I:</b></div>
<div class="t s" style="left:108.98px;top:671.23px;font-size:42.0px;line-height:42.0px;transform:scaleX(1.0198)">Undergoing</div>
<div class="t s" style="left:323.50px;top:671.23px;font-size:42.0px;line-height:42.0px;transform:scaleX(1.0934)">transplant</div>
<div class="t s" style="left:52.24px;top:710.40px;font-size:40.0px;line-height:40.0px;transform:scaleX(0.8784)"><b>C:</b></div>
<div class="t s" style="left:112.94px;top:708.73px;font-size:42.0px;line-height:42.0px;transform:scaleX(1.0598)">Patients</div>
<div class="t s" style="left:265.00px;top:708.73px;font-size:42.0px;line-height:42.0px;transform:scaleX(1.0210)">with</div>
<div class="t s" style="left:351.87px;top:708.73px;font-size:42.0px;line-height:42.0px;transform:scaleX(1.0648)">“first</div>
<div class="t s" style="left:454.96px;top:708.73px;font-size:42.0px;line-height:42.0px;transform:scaleX(1.0404)">ever”</div>
<div class="t s" style="left:560.49px;top:708.73px;font-size:42.0px;line-height:42.0px;transform:scaleX(1.0087)">episode</div>
<div class="t s" style="left:700.50px;top:708.73px;font-size:42.0px;line-height:42.0px;transform:scaleX(1.0004)">of</div>
<div class="t s" style="left:746.00px;top:708.73px;font-size:42.0px;line-height:42.0px;transform:scaleX(1.0281)">hepatic</div>
<div class="t s" style="left:881.45px;top:708.73px;font-size:42.0px;line-height:42.0px;transform:scaleX(1.0463)">decompensation</div>
<div class="t s" style="left:1178.00px;top:708.73px;font-size:42.0px;line-height:42.0px;transform:scaleX(1.0198)">vs.</div>
<div class="t s" style="left:1237.50px;top:708.73px;font-size:42.0px;line-height:42.0px;transform:scaleX(1.0617)">patient</div>
<div class="t s" style="left:1370.00px;top:708.73px;font-size:42.0px;line-height:42.0px;transform:scaleX(1.0333)">with</div>
<div class="t s" style="left:54.00px;top:746.23px;font-size:42.0px;line-height:42.0px;transform:scaleX(1.0039)">prior</div>
<div class="t s" style="left:146.45px;top:746.23px;font-size:42.0px;line-height:42.0px;transform:scaleX(1.0528)">episodes</div>
<div class="t s" style="left:52.21px;top:785.90px;font-size:40.0px;line-height:40.0px;transform:scaleX(0.8974)"><b>O:</b></div>
<div class="t s" style="left:114.90px;top:784.23px;font-size:42.0px;line-height:42.0px;transform:scaleX(1.1011)">Post-transplant</div>
<div class="t s" style="left:403.99px;top:784.23px;font-size:42.0px;line-height:42.0px;transform:scaleX(1.0076)">survival,</div>
<div class="t s" style="left:561.41px;top:784.23px;font-size:42.0px;line-height:42.0px;transform:scaleX(1.0931)">return</div>
<div class="t s" style="left:682.50px;top:784.23px;font-size:42.0px;line-height:42.0px;transform:scaleX(1.0076)">to</div>
<div class="t s" style="left:726.00px;top:784.23px;font-size:42.0px;line-height:42.0px;transform:scaleX(1.0315)">harmful</div>
<div class="t s" style="left:873.99px;top:784.23px;font-size:42.0px;line-height:42.0px;transform:scaleX(1.0066)">alcohol</div>
<div class="t s" style="left:1009.00px;top:784.23px;font-size:42.0px;line-height:42.0px;transform:scaleX(1.0327)">use,</div>
<div class="t s" style="left:1088.50px;top:784.23px;font-size:42.0px;line-height:42.0px;transform:scaleX(1.1120)">post-transplant</div>
<div class="t s" style="left:52.97px;top:821.23px;font-size:42.0px;line-height:42.0px;transform:scaleX(1.0259)">complications</div>
<div class="t s" style="left:305.44px;top:821.23px;font-size:42.0px;line-height:42.0px;transform:scaleX(1.0308)">(vascular,</div>
<div class="t s" style="left:484.00px;top:821.23px;font-size:42.0px;line-height:42.0px;transform:scaleX(1.0162)">biliary,</div>
<div class="t s" style="left:613.96px;top:821.23px;font-size:42.0px;line-height:42.0px;transform:scaleX(1.0440)">rejection)</div>
<div class="t s" style="left:31.00px;top:878.90px;font-size:40.0px;line-height:40.0px;transform:scaleX(1.0040)"><b>Who was in it?</b></div>
<div class="t s" style="left:31.12px;top:917.73px;font-size:42.0px;line-height:42.0px;transform:scaleX(0.9379)">241</div>
<div class="t s" style="left:100.01px;top:917.73px;font-size:42.0px;line-height:42.0px;transform:scaleX(0.9890)">liver</div>
<div class="t s" style="left:186.50px;top:917.73px;font-size:42.0px;line-height:42.0px;transform:scaleX(1.0868)">transplant</div>
<div class="t s" style="left:377.96px;top:917.73px;font-size:42.0px;line-height:42.0px;transform:scaleX(1.0416)">recipients</div>
<div class="t s" style="left:558.98px;top:917.73px;font-size:42.0px;line-height:42.0px;transform:scaleX(1.0239)">for</div>
<div class="t s" style="left:617.50px;top:917.73px;font-size:42.0px;line-height:42.0px;transform:scaleX(0.8800)">AH</div>
<div class="t s" style="left:680.00px;top:917.73px;font-size:42.0px;line-height:42.0px;transform:scaleX(1.0003)">across</div>
<div class="t s" style="left:795.63px;top:917.73px;font-size:42.0px;line-height:42.0px;transform:scaleX(0.9344)">6</div>
<div class="t s" style="left:824.95px;top:917.73px;font-size:42.0px;line-height:42.0px;transform:scaleX(1.0470)">centers</div>
<div class="t s" style="left:960.48px;top:917.73px;font-size:42.0px;line-height:42.0px;transform:scaleX(1.0221)">from</div>
<div class="t s" style="left:1054.64px;top:917.73px;font-size:42.0px;line-height:42.0px;transform:scaleX(1.0303)">2007</div>
<div class="t s" style="left:1152.00px;top:917.73px;font-size:42.0px;line-height:42.0px;transform:scaleX(0.9630)">to</div>
<div class="t s" style="left:1193.44px;top:917.73px;font-size:42.0px;line-height:42.0px;transform:scaleX(1.0288)">2020.</div>
<div class="t s" style="left:1301.52px;top:917.73px;font-size:42.0px;line-height:42.0px;transform:scaleX(0.9806)">None</div>
<div class="t s" style="left:1401.00px;top:917.73px;font-size:42.0px;line-height:42.0px;transform:scaleX(1.0000)">of</div>
<div class="t s" style="left:33.00px;top:958.73px;font-size:42.0px;line-height:42.0px;transform:scaleX(1.0796)">these</div>
<div class="t s" style="left:137.50px;top:958.73px;font-size:42.0px;line-height:42.0px;transform:scaleX(1.0700)">patients</div>
<div class="t s" style="left:288.50px;top:958.73px;font-size:42.0px;line-height:42.0px;transform:scaleX(1.0050)">had</div>
<div class="t s" style="left:360.00px;top:958.73px;font-size:42.0px;line-height:42.0px;transform:scaleX(0.9952)">a</div>
<div class="t s" style="left:388.94px;top:958.73px;font-size:42.0px;line-height:42.0px;transform:scaleX(1.0563)">mandated</div>
<div class="t s" style="left:572.50px;top:958.73px;font-size:42.0px;line-height:42.0px;transform:scaleX(1.0017)">period</div>
<div class="t s" style="left:690.54px;top:958.73px;font-size:42.0px;line-height:42.0px;transform:scaleX(0.9564)">of</div>
<div class="t s" style="left:733.96px;top:958.73px;font-size:42.0px;line-height:42.0px;transform:scaleX(1.0417)">sobriety.</div>
<div class="t s" style="left:894.05px;top:958.73px;font-size:42.0px;line-height:42.0px;transform:scaleX(0.9524)">Out</div>
<div class="t s" style="left:963.98px;top:958.73px;font-size:42.0px;line-height:42.0px;transform:scaleX(1.0228)">of</div>
<div class="t s" style="left:1010.50px;top:958.73px;font-size:42.0px;line-height:42.0px;transform:scaleX(1.0662)">these</div>
<div class="t s" style="left:1113.70px;top:958.73px;font-size:42.0px;line-height:42.0px;transform:scaleX(1.0500)">patients,</div>
<div class="t s" style="left:1273.10px;top:958.73px;font-size:42.0px;line-height:42.0px;transform:scaleX(0.9490)">210</div>
<div class="t s" style="left:1342.79px;top:958.73px;font-size:42.0px;line-height:42.0px;transform:scaleX(1.0085)">received</div>
<div class="t s" style="left:32.11px;top:1000.23px;font-size:42.0px;line-height:42.0px;transform:scaleX(0.8918)">LT</div>
<div class="t s" style="left:82.96px;top:1000.23px;font-size:42.0px;line-height:42.0px;transform:scaleX(1.0403)">during</div>
<div class="t s" style="left:207.96px;top:1000.23px;font-size:42.0px;line-height:42.0px;transform:scaleX(1.0364)">first</div>
<div class="t s" style="left:288.99px;top:1000.23px;font-size:42.0px;line-height:42.0px;transform:scaleX(1.0087)">episode</div>
<div class="t s" style="left:429.01px;top:1000.23px;font-size:42.0px;line-height:42.0px;transform:scaleX(0.9894)">of</div>
<div class="t s" style="left:473.96px;top:1000.23px;font-size:42.0px;line-height:42.0px;transform:scaleX(1.0412)">decompensation,</div>
<div class="t s" style="left:780.00px;top:1000.23px;font-size:42.0px;line-height:42.0px;transform:scaleX(1.0065)">while</div>
<div class="t s" style="left:884.88px;top:1000.23px;font-size:42.0px;line-height:42.0px;transform:scaleX(0.8119)">31</div>
<div class="t s" style="left:927.50px;top:1000.23px;font-size:42.0px;line-height:42.0px;transform:scaleX(1.0700)">patients</div>
<div class="t s" style="left:1078.50px;top:1000.23px;font-size:42.0px;line-height:42.0px;transform:scaleX(1.0444)">had</div>
<div class="t s" style="left:1152.80px;top:1000.23px;font-size:42.0px;line-height:42.0px;transform:scaleX(1.0039)">prior</div>
<div class="t s" style="left:1245.28px;top:1000.23px;font-size:42.0px;line-height:42.0px;transform:scaleX(1.0151)">episodes</div>
<div class="t s" style="left:1402.79px;top:1000.23px;font-size:42.0px;line-height:42.0px;transform:scaleX(1.0059)">of</div>
<div class="t s" style="left:31.96px;top:1041.73px;font-size:42.0px;line-height:42.0px;transform:scaleX(1.0446)">decompensation,</div>
<div class="t s" style="left:338.97px;top:1041.73px;font-size:42.0px;line-height:42.0px;transform:scaleX(1.0261)">defined</div>
<div class="t s" style="left:478.99px;top:1041.73px;font-size:42.0px;line-height:42.0px;transform:scaleX(1.0113)">as</div>
<div class="t s" style="left:524.95px;top:1041.73px;font-size:42.0px;line-height:42.0px;transform:scaleX(1.0458)">ascites,</div>
<div class="t s" style="left:664.00px;top:1041.73px;font-size:42.0px;line-height:42.0px;transform:scaleX(1.0319)">hepatic</div>
<div class="t s" style="left:799.94px;top:1041.73px;font-size:42.0px;line-height:42.0px;transform:scaleX(1.0594)">encephalopathy,</div>
<div class="t s" style="left:1098.50px;top:1041.73px;font-size:42.0px;line-height:42.0px;transform:scaleX(1.0133)">variceal</div>
<div class="t s" style="left:1243.80px;top:1041.73px;font-size:42.0px;line-height:42.0px;transform:scaleX(1.0095)">bleeding,</div>
<div class="t s" style="left:1410.97px;top:1041.73px;font-size:42.0px;line-height:42.0px;transform:scaleX(1.0294)">or</div>
<div class="t s" style="left:34.03px;top:1082.73px;font-size:42.0px;line-height:42.0px;transform:scaleX(1.0313)">jaundice,</div>
<div class="t s" style="left:200.00px;top:1082.73px;font-size:42.0px;line-height:42.0px;transform:scaleX(0.8634)">AND</div>
<div class="t s" style="left:287.49px;top:1082.73px;font-size:42.0px;line-height:42.0px;transform:scaleX(1.0111)">evidence</div>
<div class="t s" style="left:449.07px;top:1082.73px;font-size:42.0px;line-height:42.0px;transform:scaleX(0.9344)">of</div>
<div class="t s" style="left:491.49px;top:1082.73px;font-size:42.0px;line-height:42.0px;transform:scaleX(1.0066)">alcohol</div>
<div class="t s" style="left:626.50px;top:1082.73px;font-size:42.0px;line-height:42.0px;transform:scaleX(1.0002)">use</div>
<div class="t s" style="left:692.95px;top:1082.73px;font-size:42.0px;line-height:42.0px;transform:scaleX(1.0530)">after</div>
<div class="t s" style="left:785.00px;top:1082.73px;font-size:42.0px;line-height:42.0px;transform:scaleX(1.0597)">this</div>
<div class="t s" style="left:860.43px;top:1082.73px;font-size:42.0px;line-height:42.0px;transform:scaleX(1.0714)">event.</div>
<div class="t s" style="left:50.01px;top:1152.89px;font-size:43.0px;line-height:43.0px;transform:scaleX(0.9940)"><b>What did it show?</b></div>
<div class="t s" style="left:142.01px;top:1191.64px;font-size:44.5px;line-height:44.5px;transform:scaleX(0.9974)">Survival</div>
<i class="bu" style="left:50.75px;top:1210.45px"></i>
<div class="t s" style="left:303.50px;top:1191.64px;font-size:44.5px;line-height:44.5px;transform:scaleX(1.0019)">was</div>
<div class="t s" style="left:384.00px;top:1191.64px;font-size:44.5px;line-height:44.5px;transform:scaleX(1.0414)">higher</div>
<div class="t s" style="left:513.97px;top:1191.64px;font-size:44.5px;line-height:44.5px;transform:scaleX(1.0279)">in</div>
<div class="t s" style="left:561.00px;top:1191.64px;font-size:44.5px;line-height:44.5px;transform:scaleX(1.0604)">the</div>
<div class="t s" style="left:630.44px;top:1191.64px;font-size:44.5px;line-height:44.5px;transform:scaleX(1.0566)">first</div>
<div class="t s" style="left:717.95px;top:1191.64px;font-size:44.5px;line-height:44.5px;transform:scaleX(1.0489)">decompensation</div>
<div class="t s" style="left:1032.94px;top:1191.64px;font-size:44.5px;line-height:44.5px;transform:scaleX(1.0313)">group</div>
<div class="t s" style="left:1151.46px;top:1191.64px;font-size:44.5px;line-height:44.5px;transform:scaleX(1.0428)">compared</div>
<div class="t s" style="left:1346.00px;top:1191.64px;font-size:44.5px;line-height:44.5px;transform:scaleX(1.0383)">to</div>
<div class="t s" style="left:1393.50px;top:1191.64px;font-size:44.5px;line-height:44.5px;transform:scaleX(1.0139)">prior</div>
<div class="t s" style="left:1492.45px;top:1191.64px;font-size:44.5px;line-height:44.5px;transform:scaleX(1.0505)">decompensation</div>
<div class="t s" style="left:1807.96px;top:1191.64px;font-size:44.5px;line-height:44.5px;transform:scaleX(1.0180)">group</div>
<div class="t s" style="left:1924.92px;top:1191.64px;font-size:44.5px;line-height:44.5px;transform:scaleX(1.0755)">at</div>
<div class="t s" style="left:1971.49px;top:1191.64px;font-size:44.5px;line-height:44.5px;transform:scaleX(1.0084)">one</div>
<div class="t s" style="left:2047.50px;top:1191.64px;font-size:44.5px;line-height:44.5px;transform:scaleX(1.0022)">year</div>
<div class="t s" style="left:2135.35px;top:1191.64px;font-size:44.5px;line-height:44.5px;transform:scaleX(1.0528)">and</div>
<div class="t s" style="left:2214.70px;top:1191.64px;font-size:44.5px;line-height:44.5px;transform:scaleX(1.0745)">three</div>
<div class="t s" style="left:2322.20px;top:1191.64px;font-size:44.5px;line-height:44.5px;transform:scaleX(1.0194)">years</div>
<div class="t s" style="left:186.53px;top:1232.14px;font-size:44.5px;line-height:44.5px;transform:scaleX(0.9683)">93% vs 86%, and 85% vs 78% respectively</div>
<i class="bu" style="left:50.75px;top:1250.95px"></i>
<div class="t s" style="left:145.00px;top:1272.14px;font-size:44.5px;line-height:44.5px;transform:scaleX(1.0011)">There</div>
<i class="bu" style="left:50.75px;top:1290.95px"></i>
<div class="t s" style="left:260.00px;top:1272.14px;font-size:44.5px;line-height:44.5px;transform:scaleX(1.0043)">were</div>
<div class="t s" style="left:358.01px;top:1272.14px;font-size:44.5px;line-height:44.5px;transform:scaleX(0.9890)">no</div>
<div class="t s" style="left:412.92px;top:1272.14px;font-size:44.5px;line-height:44.5px;transform:scaleX(1.0406)">significant</div>
<div class="t s" style="left:619.96px;top:1272.14px;font-size:44.5px;line-height:44.5px;transform:scaleX(1.0441)">difference</div>
<div class="t s" style="left:819.00px;top:1272.14px;font-size:44.5px;line-height:44.5px;transform:scaleX(1.0477)">between</div>
<div class="t s" style="left:986.00px;top:1272.14px;font-size:44.5px;line-height:44.5px;transform:scaleX(1.0766)">the</div>
<div class="t s" style="left:1056.50px;top:1272.14px;font-size:44.5px;line-height:44.5px;transform:scaleX(0.9515)">two</div>
<div class="t s" style="left:1130.44px;top:1272.14px;font-size:44.5px;line-height:44.5px;transform:scaleX(1.0284)">groups</div>
<div class="t s" style="left:1266.44px;top:1272.14px;font-size:44.5px;line-height:44.5px;transform:scaleX(1.0618)">in</div>
<div class="t s" style="left:1315.00px;top:1272.14px;font-size:44.5px;line-height:44.5px;transform:scaleX(1.1117)">post-transplant</div>
<div class="t s" style="left:1621.45px;top:1272.14px;font-size:44.5px;line-height:44.5px;transform:scaleX(1.0512)">rates</div>
<div class="t s" style="left:1721.55px;top:1272.14px;font-size:44.5px;line-height:44.5px;transform:scaleX(0.9536)">of</div>
<div class="t s" style="left:1767.50px;top:1272.14px;font-size:44.5px;line-height:44.5px;transform:scaleX(1.0580)">vascular,</div>
<div class="t s" style="left:1946.00px;top:1272.14px;font-size:44.5px;line-height:44.5px;transform:scaleX(0.9998)">biliary,</div>
<div class="t s" style="left:2081.46px;top:1272.14px;font-size:44.5px;line-height:44.5px;transform:scaleX(1.0376)">or</div>
<div class="t s" style="left:2131.46px;top:1272.14px;font-size:44.5px;line-height:44.5px;transform:scaleX(1.0414)">rejection</div>
<div class="t s" style="left:2305.15px;top:1272.14px;font-size:44.5px;line-height:44.5px;transform:scaleX(1.0518)">complications</div>
<div class="t s" style="left:144.01px;top:1311.64px;font-size:44.5px;line-height:44.5px;transform:scaleX(0.9888)">Prior</div>
<i class="bu" style="left:50.75px;top:1330.45px"></i>
<div class="t s" style="left:242.94px;top:1311.64px;font-size:44.5px;line-height:44.5px;transform:scaleX(1.0597)">decompensation,</div>
<div class="t s" style="left:572.91px;top:1311.64px;font-size:44.5px;line-height:44.5px;transform:scaleX(1.0884)">non-white</div>
<div class="t s" style="left:781.45px;top:1311.64px;font-size:44.5px;line-height:44.5px;transform:scaleX(1.0492)">race,</div>
<div class="t s" style="left:882.50px;top:1311.64px;font-size:44.5px;line-height:44.5px;transform:scaleX(1.0332)">prescribed</div>
<div class="t s" style="left:1085.46px;top:1311.64px;font-size:44.5px;line-height:44.5px;transform:scaleX(1.0435)">medications</div>
<div class="t s" style="left:1321.53px;top:1311.64px;font-size:44.5px;line-height:44.5px;transform:scaleX(0.9683)">for</div>
<div class="t s" style="left:1382.47px;top:1311.64px;font-size:44.5px;line-height:44.5px;transform:scaleX(1.0323)">comorbid</div>
<div class="t s" style="left:1570.00px;top:1311.64px;font-size:44.5px;line-height:44.5px;transform:scaleX(1.0248)">psychiatric</div>
<div class="t s" style="left:1781.43px;top:1311.64px;font-size:44.5px;line-height:44.5px;transform:scaleX(1.0663)">illness,</div>
<div class="t s" style="left:1926.46px;top:1311.64px;font-size:44.5px;line-height:44.5px;transform:scaleX(1.0420)">and</div>
<div class="t s" style="left:2005.00px;top:1311.64px;font-size:44.5px;line-height:44.5px;transform:scaleX(1.0393)">harmful</div>
<div class="t s" style="left:2162.97px;top:1311.64px;font-size:44.5px;line-height:44.5px;transform:scaleX(1.0290)">alcohol</div>
<div class="t s" style="left:2309.20px;top:1311.64px;font-size:44.5px;line-height:44.5px;transform:scaleX(1.0163)">use</div>
<div class="t s" style="left:2380.76px;top:1311.64px;font-size:44.5px;line-height:44.5px;transform:scaleX(1.0384)">after</div>
<div class="t s" style="left:2477.10px;top:1311.64px;font-size:44.5px;line-height:44.5px;transform:scaleX(0.8961)">LT</div>
<div class="t s" style="left:2531.40px;top:1311.64px;font-size:44.5px;line-height:44.5px;transform:scaleX(1.0073)">were</div>
<div class="t s" style="left:2629.71px;top:1311.64px;font-size:44.5px;line-height:44.5px;transform:scaleX(0.9944)">all</div>
<div class="t s" style="left:2684.93px;top:1311.64px;font-size:44.5px;line-height:44.5px;transform:scaleX(1.0714)">independent</div>
<div class="t s" style="left:143.96px;top:1351.64px;font-size:44.5px;line-height:44.5px;transform:scaleX(1.0368)">risk factors for overall post-LT mortality</div>
<div class="t s" style="left:143.99px;top:1391.64px;font-size:44.5px;line-height:44.5px;transform:scaleX(1.0095)">History</div>
<i class="bu" style="left:50.75px;top:1410.45px"></i>
<div class="t s" style="left:290.01px;top:1391.64px;font-size:44.5px;line-height:44.5px;transform:scaleX(0.9854)">of</div>
<div class="t s" style="left:337.50px;top:1391.64px;font-size:44.5px;line-height:44.5px;transform:scaleX(1.0139)">prior</div>
<div class="t s" style="left:436.44px;top:1391.64px;font-size:44.5px;line-height:44.5px;transform:scaleX(1.0575)">decompensation</div>
<div class="t s" style="left:754.00px;top:1391.64px;font-size:44.5px;line-height:44.5px;transform:scaleX(0.9835)">was</div>
<div class="t s" style="left:832.96px;top:1391.64px;font-size:44.5px;line-height:44.5px;transform:scaleX(1.0415)">associated</div>
<div class="t s" style="left:1035.00px;top:1391.64px;font-size:44.5px;line-height:44.5px;transform:scaleX(1.0251)">with</div>
<div class="t s" style="left:1127.50px;top:1391.64px;font-size:44.5px;line-height:44.5px;transform:scaleX(1.0428)">higher</div>
<div class="t s" style="left:1257.62px;top:1391.64px;font-size:44.5px;line-height:44.5px;transform:scaleX(1.0754)">rates</div>
<div class="t s" style="left:1360.04px;top:1391.64px;font-size:44.5px;line-height:44.5px;transform:scaleX(0.9647)">of</div>
<div class="t s" style="left:1406.40px;top:1391.64px;font-size:44.5px;line-height:44.5px;transform:scaleX(1.0956)">return</div>
<div class="t s" style="left:1535.00px;top:1391.64px;font-size:44.5px;line-height:44.5px;transform:scaleX(1.0058)">to</div>
<div class="t s" style="left:1581.00px;top:1391.64px;font-size:44.5px;line-height:44.5px;transform:scaleX(1.0459)">harmful</div>
<div class="t s" style="left:1739.98px;top:1391.64px;font-size:44.5px;line-height:44.5px;transform:scaleX(1.0205)">alcohol</div>
<div class="t s" style="left:1885.00px;top:1391.64px;font-size:44.5px;line-height:44.5px;transform:scaleX(1.0006)">use</div>
<div class="t s" style="left:1955.72px;top:1391.64px;font-size:44.5px;line-height:44.5px;transform:scaleX(0.8914)">(HR</div>
<div class="t s" style="left:2033.48px;top:1391.64px;font-size:44.5px;line-height:44.5px;transform:scaleX(1.0057)">1.84)</div>
<div class="t s" style="left:145.00px;top:1431.64px;font-size:44.5px;line-height:44.5px;transform:scaleX(0.9946)">Younger</div>
<i class="bu" style="left:50.75px;top:1450.45px"></i>
<div class="t s" style="left:306.48px;top:1431.64px;font-size:44.5px;line-height:44.5px;transform:scaleX(1.0241)">age,</div>
<div class="t s" style="left:392.50px;top:1431.64px;font-size:44.5px;line-height:44.5px;transform:scaleX(1.0507)">passionate</div>
<div class="t s" style="left:598.97px;top:1431.64px;font-size:44.5px;line-height:44.5px;transform:scaleX(1.0256)">advocate,</div>
<div class="t s" style="left:783.99px;top:1431.64px;font-size:44.5px;line-height:44.5px;transform:scaleX(1.0149)">and</div>
<div class="t s" style="left:860.45px;top:1431.64px;font-size:44.5px;line-height:44.5px;transform:scaleX(1.0453)">excellent</div>
<div class="t s" style="left:1039.98px;top:1431.64px;font-size:44.5px;line-height:44.5px;transform:scaleX(1.0208)">care</div>
<div class="t s" style="left:1126.90px;top:1431.64px;font-size:44.5px;line-height:44.5px;transform:scaleX(1.0517)">support</div>
<div class="t s" style="left:1279.00px;top:1431.64px;font-size:44.5px;line-height:44.5px;transform:scaleX(1.0248)">were</div>
<div class="t s" style="left:1379.00px;top:1431.64px;font-size:44.5px;line-height:44.5px;transform:scaleX(1.0529)">the</div>
<div class="t s" style="left:1447.94px;top:1431.64px;font-size:44.5px;line-height:44.5px;transform:scaleX(1.0597)">most</div>
<div class="t s" style="left:1551.47px;top:1431.64px;font-size:44.5px;line-height:44.5px;transform:scaleX(1.0338)">common</div>
<div class="t s" style="left:1723.95px;top:1431.64px;font-size:44.5px;line-height:44.5px;transform:scaleX(1.0517)">reasons</div>
<div class="t s" style="left:1876.00px;top:1431.64px;font-size:44.5px;line-height:44.5px;transform:scaleX(1.0495)">to</div>
<div class="t s" style="left:1924.00px;top:1431.64px;font-size:44.5px;line-height:44.5px;transform:scaleX(1.0201)">proceed</div>
<div class="t s" style="left:2079.00px;top:1431.64px;font-size:44.5px;line-height:44.5px;transform:scaleX(1.0161)">with</div>
<div class="t s" style="left:2170.69px;top:1431.64px;font-size:44.5px;line-height:44.5px;transform:scaleX(1.0124)">early</div>
<div class="t s" style="left:2272.11px;top:1431.64px;font-size:44.5px;line-height:44.5px;transform:scaleX(0.8945)">LT</div>
<div class="t s" style="left:2326.13px;top:1431.64px;font-size:44.5px;line-height:44.5px;transform:scaleX(1.0656)">despite</div>
<div class="t s" style="left:2472.30px;top:1431.64px;font-size:44.5px;line-height:44.5px;transform:scaleX(1.0178)">prior</div>
<div class="t s" style="left:2571.64px;top:1431.64px;font-size:44.5px;line-height:44.5px;transform:scaleX(1.0601)">decompensation</div>
<div class="t s" style="left:654.87px;top:1532.89px;font-size:43.0px;line-height:43.0px;transform:scaleX(1.0665)"><b>Strengths</b></div>
<div class="t s" style="left:101.47px;top:1610.14px;font-size:44.5px;line-height:44.5px;transform:scaleX(1.0296)">Population</div>
<i class="bu" style="left:50.75px;top:1628.95px"></i>
<div class="t s" style="left:311.47px;top:1610.14px;font-size:44.5px;line-height:44.5px;transform:scaleX(1.0256)">across</div>
<div class="t s" style="left:437.00px;top:1610.14px;font-size:44.5px;line-height:44.5px;transform:scaleX(0.9992)">six</div>
<div class="t s" style="left:499.98px;top:1610.14px;font-size:44.5px;line-height:44.5px;transform:scaleX(1.0178)">large</div>
<div class="t s" style="left:601.00px;top:1610.14px;font-size:44.5px;line-height:44.5px;transform:scaleX(1.0927)">transplant</div>
<div class="t s" style="left:804.92px;top:1610.14px;font-size:44.5px;line-height:44.5px;transform:scaleX(1.0836)">centers</div>
<div class="t s" style="left:953.50px;top:1610.14px;font-size:44.5px;line-height:44.5px;transform:scaleX(1.0609)">throughout</div>
<div class="t s" style="left:1172.50px;top:1610.14px;font-size:44.5px;line-height:44.5px;transform:scaleX(1.0677)">the</div>
<div class="t s" style="left:1242.59px;top:1610.14px;font-size:44.5px;line-height:44.5px;transform:scaleX(0.9074)">US</div>
<div class="t s" style="left:101.52px;top:1650.14px;font-size:44.5px;line-height:44.5px;transform:scaleX(0.9818)">Large</div>
<i class="bu" style="left:50.75px;top:1668.95px"></i>
<div class="t s" style="left:213.50px;top:1650.14px;font-size:44.5px;line-height:44.5px;transform:scaleX(1.0464)">total</div>
<div class="t s" style="left:307.91px;top:1650.14px;font-size:44.5px;line-height:44.5px;transform:scaleX(1.0461)">sample</div>
<div class="t s" style="left:451.47px;top:1650.14px;font-size:44.5px;line-height:44.5px;transform:scaleX(1.0150)">size</div>
<div class="t s" style="left:533.09px;top:1650.14px;font-size:44.5px;line-height:44.5px;transform:scaleX(0.9149)">of</div>
<div class="t s" style="left:577.13px;top:1650.14px;font-size:44.5px;line-height:44.5px;transform:scaleX(0.9357)">241</div>
<div class="t s" style="left:650.00px;top:1650.14px;font-size:44.5px;line-height:44.5px;transform:scaleX(1.0949)">patients</div>
<div class="t s" style="left:100.44px;top:1690.14px;font-size:44.5px;line-height:44.5px;transform:scaleX(1.0279)">Comparison</div>
<i class="bu" style="left:50.75px;top:1708.95px"></i>
<div class="t s" style="left:335.55px;top:1690.14px;font-size:44.5px;line-height:44.5px;transform:scaleX(0.9543)">of</div>
<div class="t s" style="left:381.42px;top:1690.14px;font-size:44.5px;line-height:44.5px;transform:scaleX(1.0817)">first</div>
<div class="t s" style="left:471.00px;top:1690.14px;font-size:44.5px;line-height:44.5px;transform:scaleX(1.0192)">vs.</div>
<div class="t s" style="left:534.00px;top:1690.14px;font-size:44.5px;line-height:44.5px;transform:scaleX(1.0089)">prior</div>
<div class="t s" style="left:632.45px;top:1690.14px;font-size:44.5px;line-height:44.5px;transform:scaleX(1.0538)">decompensation</div>
<div class="t s" style="left:948.93px;top:1690.14px;font-size:44.5px;line-height:44.5px;transform:scaleX(1.0363)">groups</div>
<div class="t s" style="left:1086.00px;top:1690.14px;font-size:44.5px;line-height:44.5px;transform:scaleX(1.1133)">within</div>
<div class="t s" style="left:1225.00px;top:1690.14px;font-size:44.5px;line-height:44.5px;transform:scaleX(0.9261)">the</div>
<div class="t s" style="left:1285.33px;top:1690.14px;font-size:44.5px;line-height:44.5px;transform:scaleX(1.0852)">same</div>
<div class="t s" style="left:101.42px;top:1729.64px;font-size:44.5px;line-height:44.5px;transform:scaleX(1.0806)">centers</div>
<div class="t s" style="left:2131.94px;top:1530.89px;font-size:43.0px;line-height:43.0px;transform:scaleX(1.0648)"><b>Weaknesses</b></div>
<div class="t s" style="left:1600.97px;top:1569.64px;font-size:44.5px;line-height:44.5px;transform:scaleX(1.0282)">Retrospective</div>
<i class="bu" style="left:1550.25px;top:1588.45px"></i>
<div class="t s" style="left:1863.96px;top:1569.64px;font-size:44.5px;line-height:44.5px;transform:scaleX(1.0442)">data</div>
<div class="t s" style="left:1953.00px;top:1569.64px;font-size:44.5px;line-height:44.5px;transform:scaleX(1.0000)">review</div>
<div class="t s" style="left:1598.96px;top:1610.14px;font-size:44.5px;line-height:44.5px;transform:scaleX(1.0137)">Small</div>
<i class="bu" style="left:1550.25px;top:1628.95px"></i>
<div class="t s" style="left:1715.44px;top:1610.14px;font-size:44.5px;line-height:44.5px;transform:scaleX(1.0608)">number</div>
<div class="t s" style="left:1871.55px;top:1610.14px;font-size:44.5px;line-height:44.5px;transform:scaleX(0.9536)">of</div>
<div class="t s" style="left:1917.50px;top:1610.14px;font-size:44.5px;line-height:44.5px;transform:scaleX(1.0799)">patients</div>
<div class="t s" style="left:2079.00px;top:1610.14px;font-size:44.5px;line-height:44.5px;transform:scaleX(1.0493)">within</div>
<div class="t s" style="left:2210.00px;top:1610.14px;font-size:44.5px;line-height:44.5px;transform:scaleX(1.0139)">prior</div>
<div class="t s" style="left:2308.95px;top:1610.14px;font-size:44.5px;line-height:44.5px;transform:scaleX(1.0538)">decompensation</div>
<div class="t s" style="left:2625.38px;top:1610.14px;font-size:44.5px;line-height:44.5px;transform:scaleX(1.0600)">group</div>
<div class="t s" style="left:1601.07px;top:1650.14px;font-size:44.5px;line-height:44.5px;transform:scaleX(0.9323)">No</div>
<i class="bu" style="left:1550.25px;top:1668.95px"></i>
<div class="t s" style="left:1661.86px;top:1650.14px;font-size:44.5px;line-height:44.5px;transform:scaleX(1.0696)">standard</div>
<div class="t s" style="left:1835.00px;top:1650.14px;font-size:44.5px;line-height:44.5px;transform:scaleX(1.0428)">practices</div>
<div class="t s" style="left:2011.50px;top:1650.14px;font-size:44.5px;line-height:44.5px;transform:scaleX(1.0140)">used</div>
<div class="t s" style="left:2105.47px;top:1650.14px;font-size:44.5px;line-height:44.5px;transform:scaleX(1.0284)">among</div>
<div class="t s" style="left:2241.44px;top:1650.14px;font-size:44.5px;line-height:44.5px;transform:scaleX(1.0647)">centers</div>
<div class="t s" style="left:2387.46px;top:1650.14px;font-size:44.5px;line-height:44.5px;transform:scaleX(1.0408)">regarding</div>
<div class="t s" style="left:2576.50px;top:1650.14px;font-size:44.5px;line-height:44.5px;transform:scaleX(1.0987)">pre-LT</div>
<div class="t s" style="left:2722.01px;top:1650.14px;font-size:44.5px;line-height:44.5px;transform:scaleX(0.9968)">selection</div>
<div class="t s" style="left:1600.98px;top:1690.14px;font-size:44.5px;line-height:44.5px;transform:scaleX(1.0216)">and</div>
<div class="t s" style="left:1677.99px;top:1690.14px;font-size:44.5px;line-height:44.5px;transform:scaleX(1.0099)">alcohol</div>
<div class="t s" style="left:1821.47px;top:1690.14px;font-size:44.5px;line-height:44.5px;transform:scaleX(1.0300)">counseling,</div>
<div class="t s" style="left:2042.94px;top:1690.14px;font-size:44.5px;line-height:44.5px;transform:scaleX(1.0593)">as</div>
<div class="t s" style="left:2094.00px;top:1690.14px;font-size:44.5px;line-height:44.5px;transform:scaleX(0.9692)">well</div>
<div class="t s" style="left:2178.94px;top:1690.14px;font-size:44.5px;line-height:44.5px;transform:scaleX(1.0596)">as</div>
<div class="t s" style="left:2230.00px;top:1690.14px;font-size:44.5px;line-height:44.5px;transform:scaleX(1.0358)">post-LT</div>
<div class="t s" style="left:2384.99px;top:1690.14px;font-size:44.5px;line-height:44.5px;transform:scaleX(1.0133)">alcohol</div>
<div class="t s" style="left:2528.94px;top:1690.14px;font-size:44.5px;line-height:44.5px;transform:scaleX(1.0617)">cessation</div>
<div class="t s" style="left:1600.93px;top:1730.64px;font-size:44.5px;line-height:44.5px;transform:scaleX(1.0714)">management</div>
<div class="t s" style="left:1856.49px;top:1730.64px;font-size:44.5px;line-height:44.5px;transform:scaleX(1.0081)">for</div>
<div class="t s" style="left:1920.00px;top:1730.64px;font-size:44.5px;line-height:44.5px;transform:scaleX(1.0190)">both</div>
<div class="t s" style="left:2011.90px;top:1730.64px;font-size:44.5px;line-height:44.5px;transform:scaleX(1.0508)">groups</div>
<div class="t s" style="left:1560.56px;top:923.39px;font-size:43.0px;line-height:43.0px;transform:scaleX(0.9706)"><b>On Left:</b></div>
<div class="t s" style="left:1721.49px;top:922.14px;font-size:44.5px;line-height:44.5px;transform:scaleX(1.0125)">Probability</div>
<div class="t s" style="left:1933.04px;top:922.14px;font-size:44.5px;line-height:44.5px;transform:scaleX(0.9555)">of</div>
<div class="t s" style="left:1978.96px;top:922.14px;font-size:44.5px;line-height:44.5px;transform:scaleX(1.0195)">survival</div>
<div class="t s" style="left:2136.45px;top:922.14px;font-size:44.5px;line-height:44.5px;transform:scaleX(1.0526)">after</div>
<div class="t s" style="left:2234.09px;top:922.14px;font-size:44.5px;line-height:44.5px;transform:scaleX(0.9077)">LT</div>
<div class="t s" style="left:2288.97px;top:922.14px;font-size:44.5px;line-height:44.5px;transform:scaleX(1.0299)">among</div>
<div class="t s" style="left:2425.14px;top:922.14px;font-size:44.5px;line-height:44.5px;transform:scaleX(1.0551)">first</div>
<div class="t s" style="left:2512.50px;top:922.14px;font-size:44.5px;line-height:44.5px;transform:scaleX(0.9999)">vs</div>
<div class="t s" style="left:2563.20px;top:922.14px;font-size:44.5px;line-height:44.5px;transform:scaleX(1.0099)">prior</div>
<div class="t s" style="left:2661.79px;top:922.14px;font-size:44.5px;line-height:44.5px;transform:scaleX(1.0086)">liver</div>
<div class="t s" style="left:1561.45px;top:965.64px;font-size:44.5px;line-height:44.5px;transform:scaleX(1.0505)">decompensation</div>
<div class="t s" style="left:1876.89px;top:965.64px;font-size:44.5px;line-height:44.5px;transform:scaleX(1.0551)">groups</div>
<div class="t s" style="left:1560.54px;top:1011.89px;font-size:43.0px;line-height:43.0px;transform:scaleX(0.9777)"><b>On Right:</b></div>
<div class="t s" style="left:1748.99px;top:1010.64px;font-size:44.5px;line-height:44.5px;transform:scaleX(1.0101)">Probability</div>
<div class="t s" style="left:1960.01px;top:1010.64px;font-size:44.5px;line-height:44.5px;transform:scaleX(0.9854)">of</div>
<div class="t s" style="left:2007.50px;top:1010.64px;font-size:44.5px;line-height:44.5px;transform:scaleX(1.0458)">harmful</div>
<div class="t s" style="left:2166.47px;top:1010.64px;font-size:44.5px;line-height:44.5px;transform:scaleX(1.0277)">alcohol</div>
<div class="t s" style="left:2312.50px;top:1010.64px;font-size:44.5px;line-height:44.5px;transform:scaleX(1.0007)">use</div>
<div class="t s" style="left:2382.95px;top:1010.64px;font-size:44.5px;line-height:44.5px;transform:scaleX(1.0494)">after</div>
<div class="t s" style="left:2480.30px;top:1010.64px;font-size:44.5px;line-height:44.5px;transform:scaleX(0.8959)">LT</div>
<div class="t s" style="left:2534.46px;top:1010.64px;font-size:44.5px;line-height:44.5px;transform:scaleX(1.0360)">among</div>
<div class="t s" style="left:2671.45px;top:1010.64px;font-size:44.5px;line-height:44.5px;transform:scaleX(1.0487)">first</div>
<div class="t s" style="left:2758.30px;top:1010.64px;font-size:44.5px;line-height:44.5px;transform:scaleX(1.0101)">vs</div>
<div class="t s" style="left:2809.50px;top:1010.64px;font-size:44.5px;line-height:44.5px;transform:scaleX(1.0172)">prior</div>
<div class="t s" style="left:1561.50px;top:1054.64px;font-size:44.5px;line-height:44.5px;transform:scaleX(0.9981)">liver</div>
<div class="t s" style="left:1653.95px;top:1054.64px;font-size:44.5px;line-height:44.5px;transform:scaleX(1.0538)">decompensation</div>
<div class="t s" style="left:1970.41px;top:1054.64px;font-size:44.5px;line-height:44.5px;transform:scaleX(1.0466)">groups</div>
<div class="t n" style="left:1363.10px;top:1819.83px;font-size:46.5px;line-height:46.5px;color:#fff;-webkit-text-stroke:0.45px #fff;transform:scaleX(1.1241)"><b>Take away:</b></div>
<div class="t n" style="left:140.45px;top:1868.07px;font-size:43.5px;line-height:43.5px;color:#fff;-webkit-text-stroke:0.12px #fff;transform:scaleX(1.0156)">Prior</div>
<div class="t n" style="left:246.00px;top:1868.07px;font-size:43.5px;line-height:43.5px;color:#fff;-webkit-text-stroke:0.12px #fff;transform:scaleX(1.0800)">versus</div>
<div class="t n" style="left:397.42px;top:1868.07px;font-size:43.5px;line-height:43.5px;color:#fff;-webkit-text-stroke:0.12px #fff;transform:scaleX(1.0754)">first</div>
<div class="t n" style="left:485.86px;top:1868.07px;font-size:43.5px;line-height:43.5px;color:#fff;-webkit-text-stroke:0.12px #fff;transform:scaleX(1.0458)">liver</div>
<div class="t n" style="left:581.78px;top:1868.07px;font-size:43.5px;line-height:43.5px;color:#fff;-webkit-text-stroke:0.12px #fff;transform:scaleX(1.1080)">decompensation</div>
<div class="t n" style="left:948.84px;top:1868.07px;font-size:43.5px;line-height:43.5px;color:#fff;-webkit-text-stroke:0.12px #fff;transform:scaleX(1.1600)">from</div>
<div class="t n" style="left:1061.00px;top:1868.07px;font-size:43.5px;line-height:43.5px;color:#fff;-webkit-text-stroke:0.12px #fff;transform:scaleX(1.0331)">AH</div>
<div class="t n" style="left:1135.93px;top:1868.07px;font-size:43.5px;line-height:43.5px;color:#fff;-webkit-text-stroke:0.12px #fff;transform:scaleX(1.0235)">is</div>
<div class="t n" style="left:1180.40px;top:1868.07px;font-size:43.5px;line-height:43.5px;color:#fff;-webkit-text-stroke:0.12px #fff;transform:scaleX(1.0502)">associated</div>
<div class="t n" style="left:1411.50px;top:1868.07px;font-size:43.5px;line-height:43.5px;color:#fff;-webkit-text-stroke:0.12px #fff;transform:scaleX(1.1467)">with</div>
<div class="t n" style="left:1514.15px;top:1868.07px;font-size:43.5px;line-height:43.5px;color:#fff;-webkit-text-stroke:0.12px #fff;transform:scaleX(1.1165)">higher</div>
<div class="t n" style="left:1662.58px;top:1868.07px;font-size:43.5px;line-height:43.5px;color:#fff;-webkit-text-stroke:0.12px #fff;transform:scaleX(1.1399)">mortality</div>
<div class="t n" style="left:1863.67px;top:1868.07px;font-size:43.5px;line-height:43.5px;color:#fff;-webkit-text-stroke:0.12px #fff;transform:scaleX(1.1675)">and</div>
<div class="t n" style="left:1962.75px;top:1868.07px;font-size:43.5px;line-height:43.5px;color:#fff;-webkit-text-stroke:0.12px #fff;transform:scaleX(1.0831)">return</div>
<div class="t n" style="left:2098.91px;top:1868.07px;font-size:43.5px;line-height:43.5px;color:#fff;-webkit-text-stroke:0.12px #fff;transform:scaleX(1.0918)">to</div>
<div class="t n" style="left:2151.58px;top:1868.07px;font-size:43.5px;line-height:43.5px;color:#fff;-webkit-text-stroke:0.12px #fff;transform:scaleX(1.1401)">harmful</div>
<div class="t n" style="left:2330.82px;top:1868.07px;font-size:43.5px;line-height:43.5px;color:#fff;-webkit-text-stroke:0.12px #fff;transform:scaleX(1.0892)">alcohol</div>
<div class="t n" style="left:2494.33px;top:1868.07px;font-size:43.5px;line-height:43.5px;color:#fff;-webkit-text-stroke:0.12px #fff;transform:scaleX(1.0219)">use</div>
<div class="t n" style="left:2578.24px;top:1868.07px;font-size:43.5px;line-height:43.5px;color:#fff;-webkit-text-stroke:0.12px #fff;transform:scaleX(1.0784)">after</div>
<div class="t n" style="left:2685.17px;top:1868.07px;font-size:43.5px;line-height:43.5px;color:#fff;-webkit-text-stroke:0.12px #fff;transform:scaleX(1.0636)">early</div>
<div class="t n" style="left:2798.12px;top:1868.07px;font-size:43.5px;line-height:43.5px;color:#fff;-webkit-text-stroke:0.12px #fff;transform:scaleX(1.1250)">LT;</div>
<div class="t n" style="left:149.26px;top:1913.07px;font-size:43.5px;line-height:43.5px;color:#fff;-webkit-text-stroke:0.12px #fff;transform:scaleX(1.0800)">however,</div>
<div class="t n" style="left:350.37px;top:1913.07px;font-size:43.5px;line-height:43.5px;color:#fff;-webkit-text-stroke:0.12px #fff;transform:scaleX(1.0670)">despite</div>
<div class="t n" style="left:512.89px;top:1913.07px;font-size:43.5px;line-height:43.5px;color:#fff;-webkit-text-stroke:0.12px #fff;transform:scaleX(1.1129)">this</div>
<div class="t n" style="left:601.62px;top:1913.07px;font-size:43.5px;line-height:43.5px;color:#fff;-webkit-text-stroke:0.12px #fff;transform:scaleX(1.1277)">higher</div>
<div class="t n" style="left:751.58px;top:1913.07px;font-size:43.5px;line-height:43.5px;color:#fff;-webkit-text-stroke:0.12px #fff;transform:scaleX(1.1387)">mortality,</div>
<div class="t n" style="left:962.58px;top:1913.07px;font-size:43.5px;line-height:43.5px;color:#fff;-webkit-text-stroke:0.12px #fff;transform:scaleX(1.1398)">patients</div>
<div class="t n" style="left:1150.00px;top:1913.07px;font-size:43.5px;line-height:43.5px;color:#fff;-webkit-text-stroke:0.12px #fff;transform:scaleX(1.1628)">with</div>
<div class="t n" style="left:1254.41px;top:1913.07px;font-size:43.5px;line-height:43.5px;color:#fff;-webkit-text-stroke:0.12px #fff;transform:scaleX(1.0296)">prior</div>
<div class="t n" style="left:1356.29px;top:1913.07px;font-size:43.5px;line-height:43.5px;color:#fff;-webkit-text-stroke:0.12px #fff;transform:scaleX(1.1065)">decompensation</div>
<div class="t n" style="left:1722.88px;top:1913.07px;font-size:43.5px;line-height:43.5px;color:#fff;-webkit-text-stroke:0.12px #fff;transform:scaleX(1.1182)">still</div>
<div class="t n" style="left:1806.87px;top:1913.07px;font-size:43.5px;line-height:43.5px;color:#fff;-webkit-text-stroke:0.12px #fff;transform:scaleX(1.0430)">have</div>
<div class="t n" style="left:1917.69px;top:1913.07px;font-size:43.5px;line-height:43.5px;color:#fff;-webkit-text-stroke:0.12px #fff;transform:scaleX(1.1025)">high</div>
<div class="t n" style="left:2021.69px;top:1913.07px;font-size:43.5px;line-height:43.5px;color:#fff;-webkit-text-stroke:0.12px #fff;transform:scaleX(1.1039)">rates</div>
<div class="t n" style="left:2141.95px;top:1913.07px;font-size:43.5px;line-height:43.5px;color:#fff;-webkit-text-stroke:0.12px #fff;transform:scaleX(1.0241)">of</div>
<div class="t n" style="left:2191.47px;top:1913.07px;font-size:43.5px;line-height:43.5px;color:#fff;-webkit-text-stroke:0.12px #fff;transform:scaleX(1.0310)">survival</div>
<div class="t n" style="left:2355.81px;top:1913.07px;font-size:43.5px;line-height:43.5px;color:#fff;-webkit-text-stroke:0.12px #fff;transform:scaleX(1.0939)">3</div>
<div class="t n" style="left:2395.50px;top:1913.07px;font-size:43.5px;line-height:43.5px;color:#fff;-webkit-text-stroke:0.12px #fff;transform:scaleX(1.0086)">years</div>
<div class="t n" style="left:2514.66px;top:1913.07px;font-size:43.5px;line-height:43.5px;color:#fff;-webkit-text-stroke:0.12px #fff;transform:scaleX(1.1143)">post-transplant.</div>
</body>
</html>
